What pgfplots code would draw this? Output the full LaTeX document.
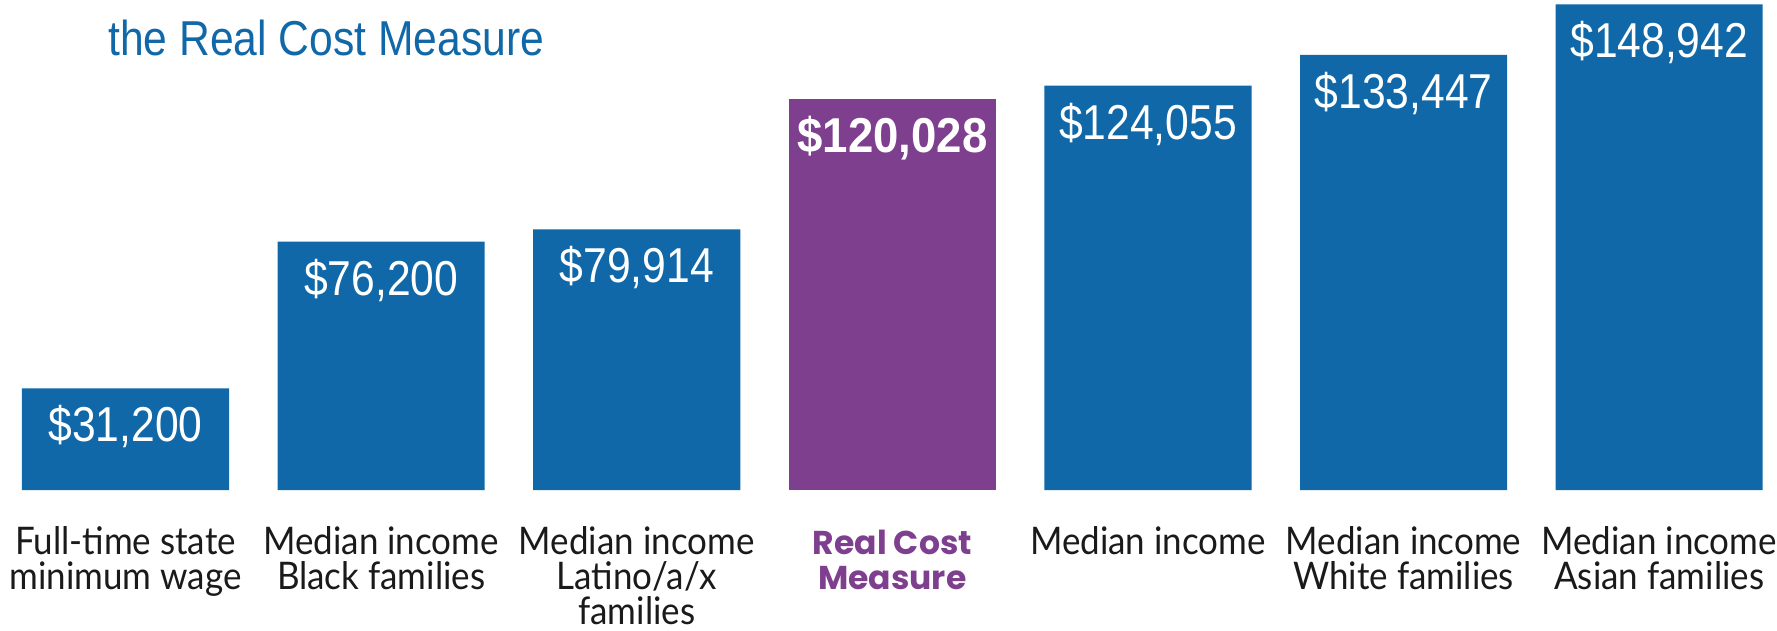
\documentclass[border=0pt]{standalone}
\usepackage{fontspec}
\usepackage{pgfplots}
\pgfplotsset{compat=1.18}
\setmainfont{Liberation Sans}
\newfontfamily\valfont[FakeStretch=0.87]{Liberation Sans}
\newfontfamily\valbfont[FakeStretch=0.93]{Liberation Sans}
\newfontfamily\labfont[FakeStretch=0.92]{Lato}
\newfontfamily\popfont{Poppins}
\definecolor{rcblue}{RGB}{16,104,168}
\definecolor{rcpurple}{RGB}{127,63,143}
\definecolor{labgray}{RGB}{26,26,26}
\newcommand\ls{\rule{0pt}{30pt}}
\newcommand\rc{\popfont\bfseries\color{rcpurple}\fontsize{33}{36}\selectfont}
\begin{document}
\begin{tikzpicture}
\path[use as bounding box] (0,0) rectangle (1777pt,630pt);
\begin{axis}[
  at={(0pt,140pt)}, anchor=south west,
  scale only axis, width=1777pt, height=490pt,
  xmin=-0.491, xmax=6.461, ymin=0, ymax=150300,
  ybar, bar width=0.81, bar shift=0pt,
  axis line style={draw=none}, tick style={draw=none},
  ytick=\empty,
  xtick={0,1,2,3,4,5,6},
  xticklabels={
    {\ls Full-time state\\minimum wage},
    {\ls Median income\\Black families},
    {\ls Median income\\Latino/a/x\\families},
    {\ls\rc Real Cost\\\rc Measure},
    {\ls Median income},
    {\ls Median income\\White families},
    {\ls Median income\\Asian families}},
  xticklabel style={font=\labfont\fontsize{38}{35}\selectfont, text=labgray, align=center, anchor=north, inner sep=0pt, yshift=-30pt},
  clip=false,
  nodes near coords, point meta=explicit symbolic,
  every node near coord/.append style={anchor=north, inner sep=0pt, yshift=-17pt, text=white},
]
\addplot[fill=rcblue, draw=none, every node near coord/.append style={font=\valfont\fontsize{49}{55}\selectfont}] coordinates {
  (0,31200) [\$31,200]
  (1,76200) [\$76,200]
  (2,79914) [\$79,914]
  (4,124055) [\$124,055]
  (5,133447) [\$133,447]
  (6,148942) [\$148,942]
};
\addplot[fill=rcpurple, draw=none, every node near coord/.append style={font=\valbfont\bfseries\fontsize{49}{55}\selectfont}] coordinates {
  (3,120028) [\$120,028]
};
\end{axis}
\node[anchor=base west, inner sep=0pt, text=rcblue, font=\valfont\fontsize{49}{55}\selectfont] at (108pt,574.5pt) {the Real Cost Measure};
\end{tikzpicture}
\end{document}
